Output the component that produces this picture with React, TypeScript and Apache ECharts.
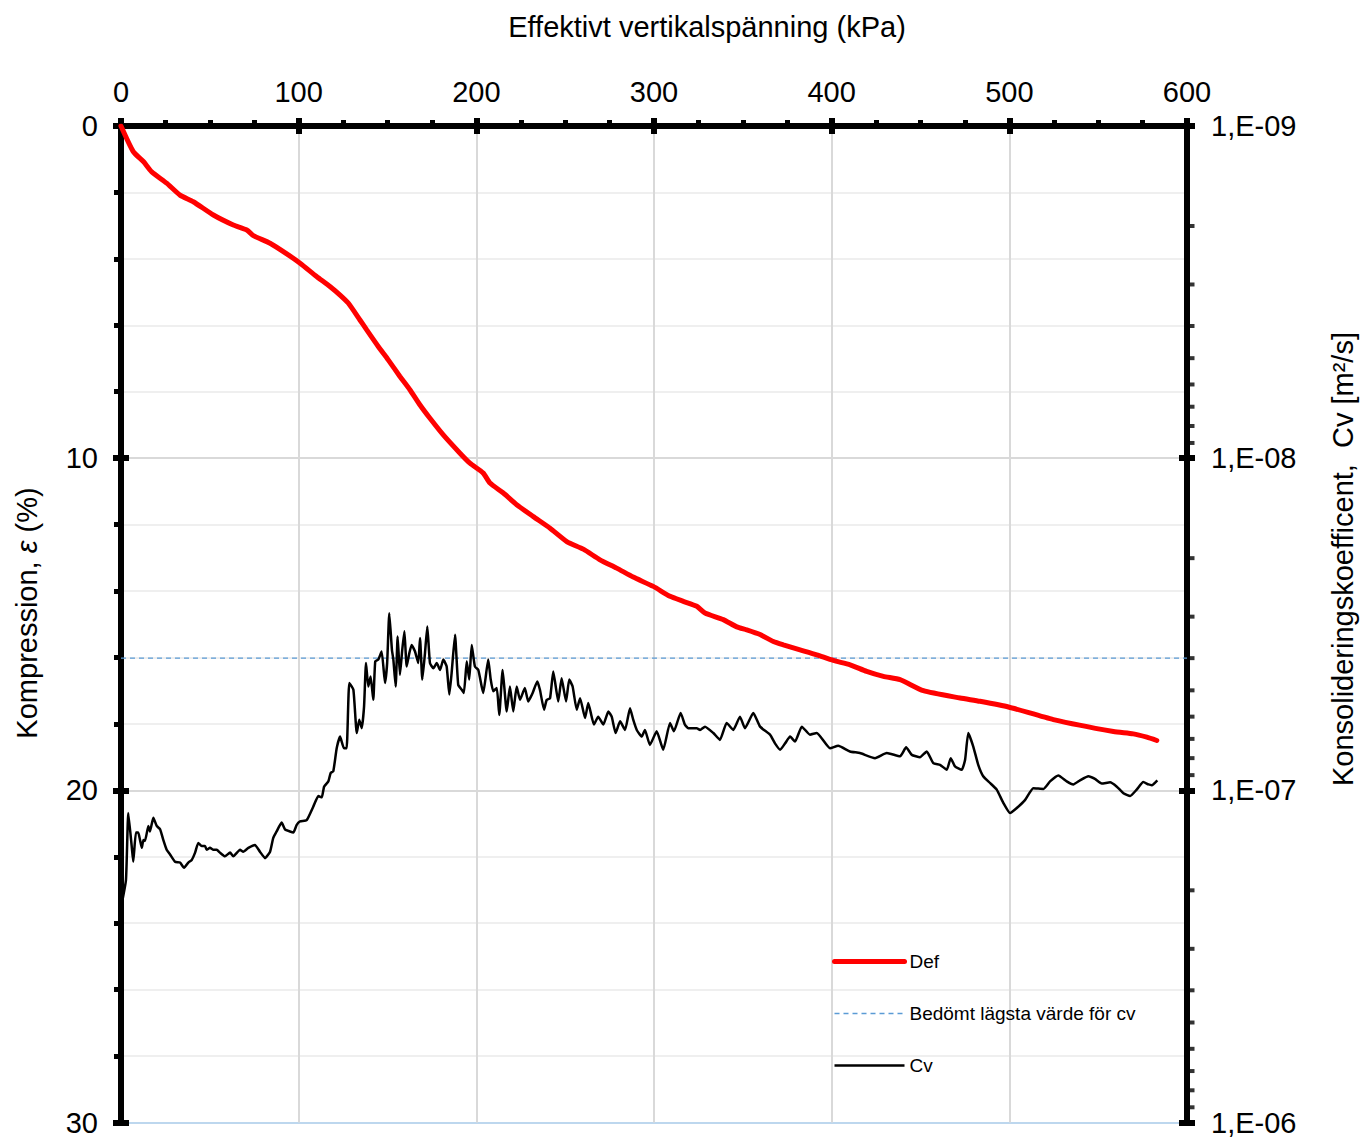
import React, { useEffect, useRef } from "react";
import * as echarts from "echarts";

const FONT = "'Liberation Sans', Arial, Helvetica, sans-serif";

// Axis / titles
const xTitle = "Effektivt vertikalspänning (kPa)";
const yLeftTitle = "Kompression, {i|ε} (%)";
const yRightTitle = "Konsolideringskoefficent,  Cv [m²/s]";
const legendNames = ["Def", "Bedömt lägsta värde för cv", "Cv"];

// Def curve: effective vertical stress (kPa) vs compression (%)
const defKpa = [
  0, 6.9, 12.6, 17.3, 25.7, 33.2, 40.7, 52.0, 63.2, 70.8, 74.5, 83.9, 93.3, 100.8, 110.1, 117.6, 123.3, 127.9,
  134.5, 138.3, 144.8, 150.4, 157.0, 162.6, 168.3, 173.9, 181.4, 190.8, 196.4, 203.9, 207.7, 215.2, 222.7, 232.1,
  241.5, 250.9, 260.2, 269.6, 279.0, 288.3, 299.6, 309.0, 316.5, 324.1, 328.7, 339.0, 346.6, 352.2, 359.7, 367.2,
  372.8, 382.2, 391.6, 400.9, 410.4, 419.7, 429.1, 438.5, 451.6, 472.3, 483.5, 499.5, 524.8, 558.6, 569.8, 577.4,
  583.0,
];
const defPct = [
  0, 0.77, 1.07, 1.38, 1.72, 2.08, 2.28, 2.68, 2.98, 3.13, 3.3, 3.53, 3.85, 4.13, 4.53, 4.83, 5.09, 5.33, 5.84,
  6.14, 6.64, 7.04, 7.54, 7.94, 8.4, 8.8, 9.3, 9.85, 10.15, 10.45, 10.75, 11.05, 11.4, 11.76, 12.11, 12.51, 12.74,
  13.06, 13.31, 13.58, 13.86, 14.16, 14.31, 14.46, 14.66, 14.86, 15.08, 15.17, 15.31, 15.52, 15.62, 15.77, 15.92,
  16.09, 16.22, 16.42, 16.57, 16.67, 17.0, 17.22, 17.32, 17.49, 17.87, 18.23, 18.3, 18.4, 18.5,
];

// Assessed lowest cv (m²/s)
const cvLowest = 4e-8;
const cvLowestKpa = [0, 600];

// Cv curve: [kPa, Cv (m²/s)]
const cvPoints: [number, number][] = [
  [0.3, 2.21e-7], [2.8, 1.86e-7], [4.1, 1.17e-7], [6.0, 1.47e-7], [6.9, 1.64e-7], [8.4, 1.34e-7], [9.7, 1.34e-7],
  [10.7, 1.41e-7], [11.7, 1.49e-7], [12.6, 1.41e-7], [13.5, 1.42e-7], [15.4, 1.28e-7], [16.3, 1.33e-7],
  [18.2, 1.21e-7], [20.1, 1.28e-7], [22.0, 1.31e-7], [23.8, 1.41e-7], [25.7, 1.51e-7], [27.6, 1.56e-7],
  [30.4, 1.64e-7], [33.2, 1.65e-7], [35.5, 1.71e-7], [37.9, 1.65e-7], [39.8, 1.62e-7], [41.7, 1.54e-7],
  [43.5, 1.44e-7], [45.4, 1.47e-7], [47.3, 1.47e-7], [48.2, 1.51e-7], [50.1, 1.49e-7], [52.0, 1.51e-7],
  [53.9, 1.51e-7], [55.7, 1.54e-7], [58.5, 1.58e-7], [61.4, 1.54e-7], [63.2, 1.58e-7], [67.0, 1.51e-7],
  [68.8, 1.53e-7], [71.7, 1.49e-7], [75.4, 1.46e-7], [78.2, 1.53e-7], [81.1, 1.6e-7], [83.9, 1.53e-7],
  [85.7, 1.39e-7], [87.6, 1.33e-7], [90.4, 1.25e-7], [92.3, 1.31e-7], [95.1, 1.33e-7], [97.0, 1.34e-7],
  [98.9, 1.27e-7], [100.8, 1.24e-7], [104.5, 1.23e-7], [108.2, 1.12e-7], [111.1, 1.04e-7], [113.0, 1.05e-7],
  [114.3, 9.75e-8], [116.7, 9.4e-8], [118.0, 8.87e-8], [119.5, 8.76e-8], [121.4, 7.47e-8], [123.3, 6.89e-8],
  [125.5, 7.47e-8], [127.0, 7.47e-8], [128.5, 4.75e-8], [130.8, 4.98e-8], [132.7, 6.72e-8], [134.1, 6.13e-8],
  [135.5, 6.5e-8], [136.8, 5.6e-8], [137.9, 4.14e-8], [139.2, 4.87e-8], [140.5, 4.54e-8], [142.0, 5.34e-8],
  [143.1, 4.09e-8], [144.8, 4.04e-8], [146.7, 3.82e-8], [148.6, 4.75e-8], [149.8, 4.14e-8], [151.0, 2.93e-8],
  [152.5, 3.78e-8], [153.3, 4.04e-8], [154.6, 4.87e-8], [155.7, 3.44e-8], [157.0, 4.49e-8], [158.3, 3.78e-8],
  [159.5, 3.32e-8], [160.8, 4.24e-8], [162.3, 3.86e-8], [163.6, 3.65e-8], [165.5, 3.82e-8], [167.3, 4.14e-8],
  [168.3, 3.48e-8], [169.6, 4.64e-8], [171.1, 3.86e-8], [172.4, 3.21e-8], [173.9, 4.14e-8], [175.8, 4.29e-8],
  [177.7, 4.14e-8], [179.6, 4.34e-8], [181.4, 4.04e-8], [183.3, 4.24e-8], [184.8, 5.15e-8], [186.1, 4.43e-8],
  [188.0, 3.4e-8], [189.8, 4.81e-8], [191.8, 4.98e-8], [193.0, 5.09e-8], [194.6, 4.09e-8], [196.0, 4.64e-8],
  [197.4, 3.65e-8], [199.2, 4.24e-8], [201.1, 4.34e-8], [203.0, 4.87e-8], [203.9, 5.09e-8], [206.7, 4.04e-8],
  [208.1, 4.64e-8], [209.5, 5.03e-8], [211.5, 4.92e-8], [212.9, 5.93e-8], [214.8, 4.34e-8], [217.1, 5.79e-8],
  [218.9, 4.87e-8], [220.8, 5.79e-8], [222.7, 4.87e-8], [224.6, 5.34e-8], [227.3, 4.92e-8], [229.2, 5.4e-8],
  [231.7, 5.09e-8], [234.3, 4.7e-8], [235.8, 4.98e-8], [238.1, 5.72e-8], [239.6, 5.34e-8], [241.5, 5.28e-8],
  [243.3, 4.39e-8], [246.1, 5.4e-8], [248.0, 4.6e-8], [250.5, 5.4e-8], [252.3, 4.64e-8], [254.2, 4.87e-8],
  [256.5, 5.72e-8], [258.4, 5.28e-8], [261.2, 6.06e-8], [263.0, 5.46e-8], [266.2, 6.34e-8], [268.6, 6.0e-8],
  [271.5, 6.34e-8], [274.3, 5.79e-8], [276.2, 6.0e-8], [278.4, 6.72e-8], [280.9, 6.2e-8], [283.7, 6.58e-8],
  [286.5, 5.66e-8], [288.3, 6.13e-8], [290.3, 6.58e-8], [293.1, 6.89e-8], [294.9, 6.58e-8], [297.7, 7.3e-8],
  [301.5, 6.64e-8], [305.2, 7.55e-8], [309.0, 6.27e-8], [311.2, 6.64e-8], [315.0, 5.85e-8], [317.4, 6.34e-8],
  [319.3, 6.5e-8], [324.0, 6.5e-8], [325.9, 6.58e-8], [328.7, 6.43e-8], [333.4, 6.72e-8], [337.1, 7.05e-8],
  [340.9, 6.27e-8], [344.6, 6.58e-8], [348.4, 6.0e-8], [351.2, 6.5e-8], [355.9, 5.85e-8], [359.7, 6.43e-8],
  [365.3, 6.8e-8], [368.1, 7.22e-8], [371.0, 7.55e-8], [373.8, 7.22e-8], [376.6, 6.89e-8], [379.4, 7.13e-8],
  [383.2, 6.43e-8], [387.8, 6.8e-8], [391.6, 6.72e-8], [399.1, 7.47e-8], [403.7, 7.34e-8], [410.3, 7.64e-8],
  [415.9, 7.72e-8], [424.4, 8.0e-8], [431.0, 7.72e-8], [438.5, 7.9e-8], [441.9, 7.42e-8], [445.1, 7.82e-8],
  [449.7, 7.95e-8], [453.5, 7.64e-8], [457.2, 8.28e-8], [461.0, 8.38e-8], [464.8, 8.67e-8], [467.0, 8.0e-8],
  [469.4, 8.47e-8], [473.2, 8.67e-8], [475.1, 8.09e-8], [476.9, 6.72e-8], [479.7, 7.38e-8], [482.5, 8.38e-8],
  [485.3, 9.07e-8], [489.1, 9.5e-8], [492.9, 9.95e-8], [496.6, 1.09e-7], [500.4, 1.17e-7], [504.2, 1.13e-7],
  [508.8, 1.07e-7], [513.5, 9.85e-8], [519.2, 9.9e-8], [522.9, 9.4e-8], [527.6, 9.02e-8], [532.3, 9.4e-8],
  [536.0, 9.6e-8], [539.8, 9.33e-8], [544.5, 9.07e-8], [548.2, 9.24e-8], [552.0, 9.54e-8], [556.7, 9.46e-8],
  [560.5, 9.75e-8], [564.2, 1.02e-7], [568.0, 1.04e-7], [571.7, 9.95e-8], [575.4, 9.44e-8], [578.3, 9.6e-8],
  [580.2, 9.65e-8], [583.3, 9.33e-8],
];

// Right (log) axis minor tick values
const rightMinorTicks = [
  2e-9, 3e-9, 4e-9, 5e-9, 6e-9, 7e-9, 8e-9, 9e-9,
  2e-8, 3e-8, 4e-8, 5e-8, 6e-8, 7e-8, 8e-8, 9e-8,
  2e-7, 3e-7, 4e-7, 5e-7, 6e-7, 7e-7, 8e-7, 9e-7,
];
const xMax = 600;

const fmtLog = (v: number) => {
  const e = Math.round(Math.log10(v));
  const s = e < 0 ? "-" : "+";
  return `1,E${s}${String(Math.abs(e)).padStart(2, "0")}`;
};

const black = "#000";
const FS = 29;

function buildOption() {
  const labelStyle = { fontSize: FS, color: black, fontFamily: FONT };
  return {
    animation: false,
    backgroundColor: "#fff",
    textStyle: { fontFamily: FONT },
    grid: { left: 121, right: 173, top: 126, bottom: 14, containLabel: false },
    legend: {
      data: [
        { name: legendNames[0], lineStyle: { width: 5, cap: "round" } },
        { name: legendNames[1], lineStyle: { width: 1.3 } },
        { name: legendNames[2], lineStyle: { width: 2.5 } },
      ],
      orient: "vertical",
      left: 827,
      top: 947,
      itemWidth: 70,
      itemHeight: 14,
      itemGap: 33,
      itemStyle: { opacity: 0 },
      textStyle: { fontSize: 19, color: black, fontFamily: FONT },
      selectedMode: false,
    },
    graphic: [
      {
        type: "text",
        x: 707,
        y: 27,
        style: { text: xTitle, fontSize: FS, fontFamily: FONT, fill: black, align: "center", verticalAlign: "middle" },
      },
      {
        type: "text",
        x: 27,
        y: 613,
        rotation: Math.PI / 2,
        style: {
          text: yLeftTitle,
          fontSize: FS,
          fontFamily: FONT,
          fill: black,
          align: "center",
          verticalAlign: "middle",
          rich: { i: { fontSize: FS, fontFamily: FONT, fontStyle: "italic", fill: black } },
        },
      },
      {
        type: "text",
        x: 1343,
        y: 559,
        rotation: Math.PI / 2,
        style: { text: yRightTitle, fontSize: FS, fontFamily: FONT, fill: black, align: "center", verticalAlign: "middle" },
      },
    ],
    xAxis: [
      {
        type: "value",
        position: "top",
        min: 0,
        max: xMax,
        interval: 100,
        axisLine: { show: true, onZero: false, lineStyle: { color: black, width: 6 } },
        axisTick: { show: true, inside: false, length: 8, lineStyle: { color: black, width: 6 } },
        minorTick: { show: true, splitNumber: 4, length: 6, lineStyle: { color: black, width: 5 } },
        axisLabel: { ...labelStyle, margin: 20 },
        splitLine: { show: true, lineStyle: { color: "#d9d9d9", width: 2 } },
        minorSplitLine: { show: false },
      },
      {
        type: "value",
        position: "top",
        min: 0,
        max: xMax,
        interval: 100,
        axisLine: { show: false, onZero: false },
        axisTick: { show: true, inside: true, length: 8, lineStyle: { color: black, width: 6 } },
        axisLabel: { show: false },
        splitLine: { show: false },
      },
    ],
    yAxis: [
      {
        type: "value",
        position: "left",
        min: 0,
        max: 30,
        interval: 10,
        inverse: true,
        axisLine: { show: true, onZero: false, lineStyle: { color: black, width: 6 } },
        axisTick: { show: true, inside: false, length: 8, lineStyle: { color: black, width: 6 } },
        minorTick: { show: true, splitNumber: 5, length: 7, lineStyle: { color: black, width: 5 } },
        axisLabel: { ...labelStyle, margin: 23 },
        splitLine: { show: true, lineStyle: { color: ["#d9d9d9", "#d9d9d9", "#d9d9d9", "#bdd7ee"], width: 2 } },
        minorSplitLine: { show: true, lineStyle: { color: "#efefef", width: 2 } },
      },
      {
        type: "log",
        logBase: 10,
        position: "right",
        min: 1e-9,
        max: 1e-6,
        splitNumber: 3,
        inverse: true,
        axisLine: { show: true, onZero: false, lineStyle: { color: black, width: 6 } },
        axisTick: { show: true, inside: false, length: 8, lineStyle: { color: black, width: 6 } },
        axisLabel: { ...labelStyle, margin: 24, formatter: fmtLog },
        splitLine: { show: false },
      },
      {
        type: "value",
        position: "left",
        min: 0,
        max: 30,
        interval: 10,
        inverse: true,
        axisLine: { show: false, onZero: false },
        axisTick: { show: true, inside: true, length: 8, lineStyle: { color: black, width: 6 } },
        axisLabel: { show: false },
        splitLine: { show: false },
      },
      {
        type: "log",
        logBase: 10,
        position: "right",
        min: 1e-9,
        max: 1e-6,
        splitNumber: 3,
        inverse: true,
        axisLine: { show: false, onZero: false },
        axisTick: { show: true, inside: true, length: 8, lineStyle: { color: black, width: 6 } },
        axisLabel: { show: false },
        splitLine: { show: false },
      },
    ],
    series: [
      {
        name: legendNames[0],
        type: "line",
        xAxisIndex: 0,
        yAxisIndex: 0,
        data: defKpa.map((x, i) => [x, defPct[i]]),
        symbol: "none",
        showSymbol: false,
        smooth: 0.2,
        color: "#ff0000",
        lineStyle: { color: "#ff0000", width: 5, cap: "round" },
        z: 4,
      },
      {
        name: legendNames[1],
        type: "line",
        xAxisIndex: 0,
        yAxisIndex: 1,
        data: cvLowestKpa.map((x) => [x, cvLowest]),
        symbol: "none",
        showSymbol: false,
        color: "#5b9bd5",
        lineStyle: { color: "#5b9bd5", width: 1.3, type: [5, 4] },
        z: 3,
      },
      {
        name: legendNames[2],
        type: "line",
        xAxisIndex: 0,
        yAxisIndex: 1,
        data: cvPoints,
        symbol: "none",
        showSymbol: false,
        smooth: 0.15,
        color: black,
        lineStyle: { color: black, width: 2.5 },
        z: 5,
      },
      {
        name: "ticks",
        type: "scatter",
        xAxisIndex: 0,
        yAxisIndex: 1,
        data: rightMinorTicks.map((v) => [xMax, v]),
        symbol: "rect",
        symbolSize: [7, 4],
        symbolOffset: [4, 0],
        itemStyle: { color: black },
        clip: false,
        silent: true,
        z: 10,
      },
    ],
  };
}

export default function App() {
  const ref = useRef<HTMLDivElement>(null);
  useEffect(() => {
    if (!ref.current) return;
    const chart = echarts.init(ref.current, null, { renderer: "svg" });
    chart.setOption(buildOption() as any);
    return () => chart.dispose();
  }, []);
  return (
    <div
      ref={ref}
      style={{ position: "absolute", left: 0, top: 0, width: 1360, height: 1137, background: "#fff" }}
    />
  );
}
